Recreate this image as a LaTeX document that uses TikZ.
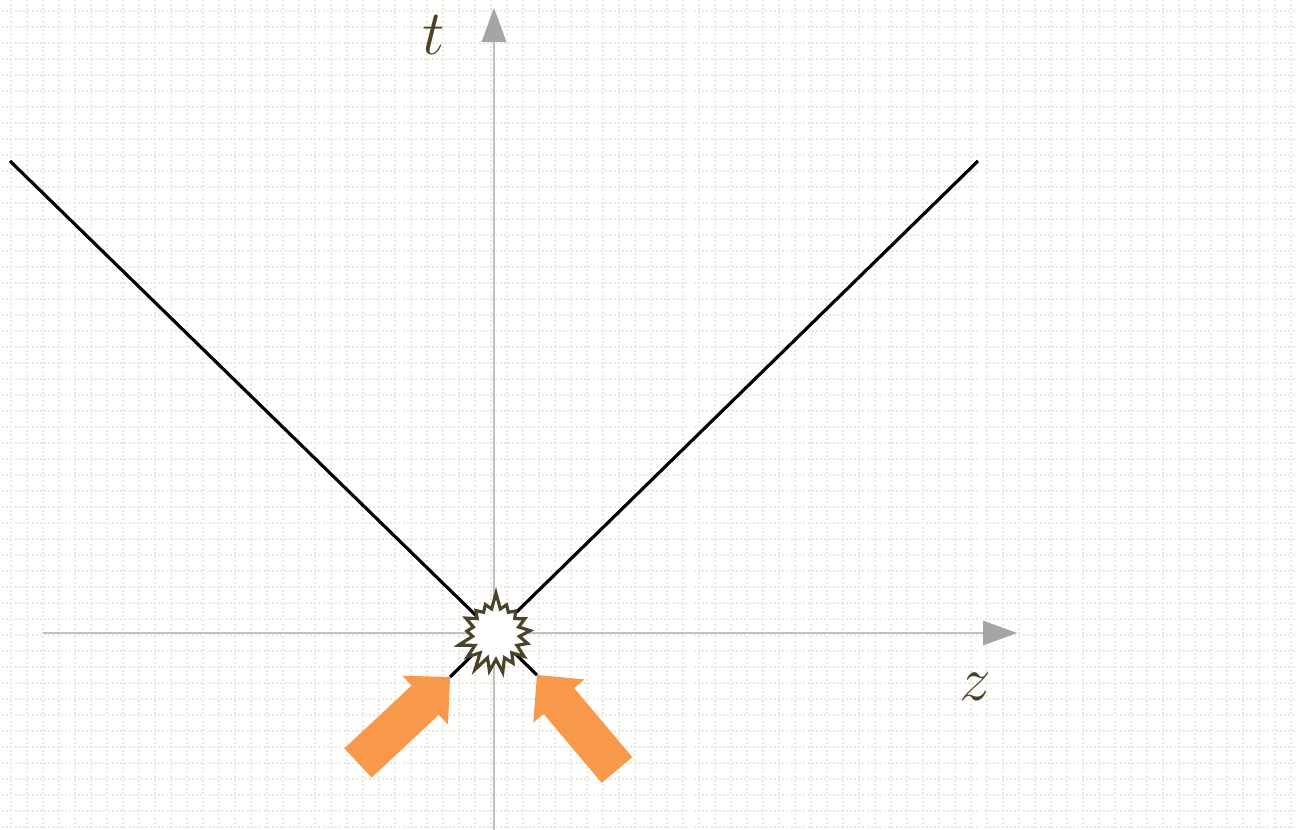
\documentclass[tikz,border=0pt]{standalone}
\usepackage{amsmath,amssymb}
\usepackage{fix-cm}
\usepackage{xcolor}
\usepackage{tikz}
\usetikzlibrary{arrows.meta,shapes.symbols}
\definecolor{gridcol}{RGB}{234,233,216}
\definecolor{axiscol}{RGB}{192,192,192}
\definecolor{tipcol}{RGB}{165,165,165}
\definecolor{olive}{RGB}{74,67,40}
\definecolor{beam}{RGB}{247,152,74}

\begin{document}
\begin{tikzpicture}[font=\fontsize{36}{40}\selectfont,
  gridline/.style={gridcol, line width=1.1pt, dash pattern=on 1.1pt off 1.3pt},
  axis/.style={axiscol, line width=1.1pt, -{Triangle[length=0.68cm, width=0.5cm, color=tipcol, line width=0pt]}},
  worldline/.style={black, line width=1.8pt},
  beamarr/.style={beam, line width=0.8cm, -{Triangle[length=0.68cm, width=1.34cm, color=beam, line width=0pt]}},
  hit/.style={starburst, starburst points=17, starburst point height=0.34cm, random starburst=7,
    draw=olive, line width=1.8pt, fill=white, minimum width=1.62cm, minimum height=1.7cm, inner sep=0pt},
  lab/.style={olive, inner sep=0pt}]
\useasboundingbox (-9.88,-3.94) rectangle (16.06,12.66);
\begin{scope}
\clip (-9.88,-3.94) rectangle (16.06,12.66);
\draw[gridline, step=0.32cm, shift={(-0.06,-0.04)}] (-10.2,-4.2) grid (16.4,13);
\end{scope}
% axes
\coordinate (zfrom) at (-9.02,0);
\coordinate (zto) at (10.46,0);
\coordinate (tfrom) at (0,-3.94);
\coordinate (tto) at (0,12.5);
\draw[axis] (zfrom) -- (zto);
\draw[axis] (tfrom) -- (tto);
% world lines
\coordinate (lowL) at (-0.88,-0.88);
\coordinate (lowR) at (0.86,-0.84);
\coordinate (topL) at (-9.68,9.44);
\coordinate (topR) at (9.68,9.44);
\draw[worldline] (lowL) -- (topR);
\draw[worldline] (lowR) -- (topL);
\node[hit] (burst) at (0.04,-0.02) {};
% incoming beams
\coordinate (srcL) at (-2.72,-2.6);
\coordinate (srcR) at (2.46,-2.74);
\draw[beamarr] (srcL) -- (lowL);
\draw[beamarr] (srcR) -- (lowR);
\node[lab] (tlab) at (-1.2,11.96) {$t$};
\node[lab] (zlab) at (9.62,-1.08) {$z$};
\end{tikzpicture}
\end{document}
